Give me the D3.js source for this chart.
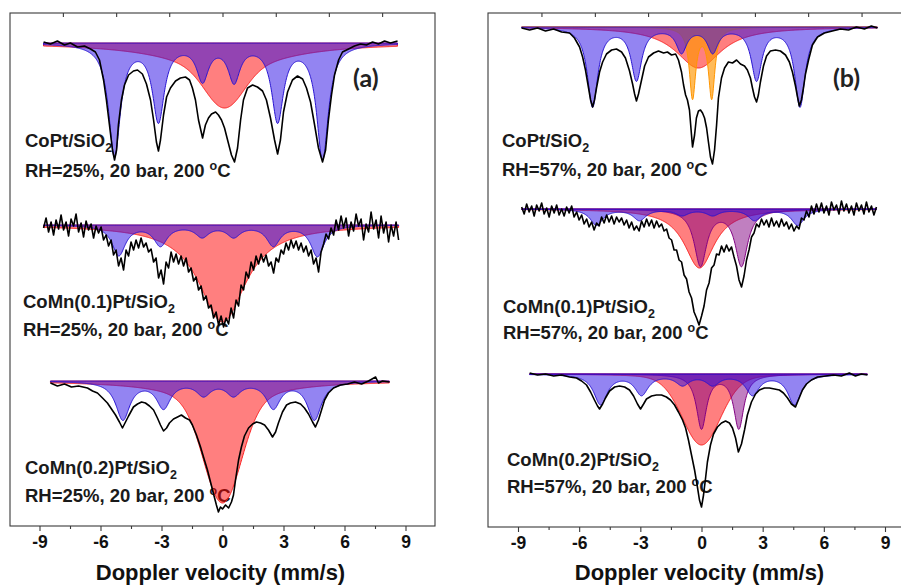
<!DOCTYPE html>
<html><head><meta charset="utf-8">
<script src="https://cdn.jsdelivr.net/npm/d3@7"></script>
<style>body{margin:0;background:#fff}svg{display:block}</style>
</head><body>
<svg id="c" width="901" height="586"></svg>
<script>
// ================= DATA =================
const xTicks = [-9, -6, -3, 0, 3, 6, 9];
const xMinorTicks = [-7.5, -4.5, -1.5, 1.5, 4.5, 7.5];
const topTicks = [-7.85, -5.23, -2.62, 0, 2.62, 5.23, 7.85];
const xLabel = "Doppler velocity (mm/s)";
const samples = ["CoPt", "CoMn(0.1)Pt", "CoMn(0.2)Pt"];
const support = "/SiO";
const humidity = ["25%", "57%"];
const condition = ", 20 bar, 200 ";
const panelTags = ["(a)", "(b)"];

// Fitted lines: [centre velocity (mm/s), depth (%), half width (mm/s), shape L/G]
// ---- (a) RH = 25% ----
const a1Spectrum = [[-8.80,100.1],[-8.46,99.9],[-8.12,100.2],[-7.77,99.8],[-7.48,100.0],[-7.13,99.6],[-6.79,99.7],[-6.49,99.4],[-6.25,99.1],[-6.05,98.3],[-5.85,96.3],[-5.71,94.3],[-5.56,91.8],[-5.41,89.3],[-5.31,88.3],[-5.21,89.3],[-5.12,91.8],[-4.97,94.3],[-4.82,95.8],[-4.62,96.8],[-4.38,97.2],[-4.18,97.3],[-3.94,96.9],[-3.74,95.9],[-3.54,94.3],[-3.39,92.3],[-3.25,90.1],[-3.15,89.2],[-3.05,90.3],[-2.90,92.8],[-2.75,94.6],[-2.56,95.5],[-2.31,96.2],[-2.07,96.5],[-1.82,96.6],[-1.62,96.3],[-1.48,95.5],[-1.33,94.3],[-1.18,92.3],[-0.98,90.5],[-0.84,91.8],[-0.69,92.5],[-0.54,92.9],[-0.34,93.1],[-0.20,92.8],[-0.05,92.3],[0.10,91.5],[0.25,90.3],[0.44,88.8],[0.59,88.1],[0.74,89.5],[0.89,92.3],[1.03,94.3],[1.23,95.5],[1.48,95.8],[1.72,95.6],[1.97,95.2],[2.16,94.3],[2.36,92.5],[2.56,90.3],[2.71,88.9],[2.85,90.3],[3.00,93.1],[3.20,95.1],[3.44,96.3],[3.69,96.7],[3.94,96.4],[4.13,95.5],[4.33,94.1],[4.53,91.8],[4.72,89.5],[4.92,88.1],[5.07,89.3],[5.21,92.3],[5.36,94.8],[5.51,96.8],[5.71,98.3],[5.90,99.1],[6.20,99.4],[6.49,99.7],[6.79,99.9],[7.08,99.8],[7.38,100.1],[7.67,99.9],[7.97,100.2],[8.26,100.0],[8.61,100.2]];
const a1Sextet = [[-5.31,11.2,0.35,"L"],[-3.15,7.6,0.35,"L"],[-0.98,3.5,0.35,"L"],[0.57,3.6,0.35,"L"],[2.71,7.6,0.35,"L"],[4.92,11.5,0.35,"L"]];
const a1Broad = [[0.1,3.5,0.9,"G"],[0.1,3.0,3.0,"L"]];

const a2VelRange = [-8.80, 8.66];
const a2Counts = [99.7,100.7,99.3,100.3,99.0,100.5,99.6,101.0,99.5,100.3,98.9,100.6,99.9,101.1,99.3,100.2,98.8,100.4,99.5,100.1,98.7,99.9,99.2,99.8,98.5,99.0,97.9,98.5,97.0,97.5,95.9,96.7,95.5,97.5,96.9,98.3,97.5,98.5,97.7,98.7,97.8,98.2,97.3,97.6,96.3,96.7,94.7,95.5,94.1,96.3,95.7,97.3,96.3,97.1,96.1,96.9,95.9,96.7,95.3,95.7,94.4,94.8,93.5,93.9,92.5,92.9,91.7,92.0,90.7,91.3,90.0,90.9,89.8,90.7,90.1,91.7,90.7,92.5,91.9,94.0,93.5,95.3,94.7,96.3,95.5,96.9,96.1,97.1,96.3,97.0,95.9,96.3,95.2,96.7,96.3,97.5,97.1,98.2,97.5,98.5,97.7,98.4,97.5,98.2,97.3,97.9,96.9,97.5,96.1,96.7,95.3,97.3,98.1,99.1,98.6,99.7,99.0,100.5,99.5,100.9,99.7,100.7,98.9,100.3,99.4,101.1,99.9,100.6,98.5,100.1,99.3,101.3,99.6,100.5,98.7,100.9,99.2,100.3,98.3,100.0,98.9,100.3,98.5];
const a2Sextet = [[-5.10,3.0,0.4,"L"],[-3.05,2.0,0.4,"L"],[-1.00,1.1,0.4,"L"],[0.55,1.1,0.4,"L"],[2.50,2.0,0.4,"L"],[4.67,3.1,0.4,"L"]];
const a2Broad = [[0.0,9.7,1.4,"L"]];

const a3Spectrum = [[-8.46,99.8],[-8.12,99.5],[-7.77,99.7],[-7.43,99.4],[-7.08,99.5],[-6.64,99.3],[-6.39,99.0],[-6.15,98.8],[-5.90,98.3],[-5.66,97.8],[-5.46,97.2],[-5.26,96.6],[-5.07,95.9],[-4.92,95.3],[-4.77,95.9],[-4.62,96.5],[-4.38,97.4],[-4.18,97.7],[-3.98,97.9],[-3.79,97.8],[-3.59,97.5],[-3.39,97.1],[-3.20,96.3],[-3.05,95.6],[-2.90,95.0],[-2.75,95.3],[-2.61,95.8],[-2.41,96.2],[-2.21,96.4],[-2.02,96.6],[-1.82,96.3],[-1.62,96.1],[-1.48,95.6],[-1.28,94.6],[-1.08,93.4],[-0.89,92.1],[-0.74,91.1],[-0.59,89.9],[-0.44,88.7],[-0.30,87.6],[-0.20,86.9],[-0.10,87.4],[0.00,87.2],[0.15,87.6],[0.30,87.3],[0.44,87.9],[0.54,88.6],[0.64,90.1],[0.79,92.1],[0.93,93.4],[1.08,94.5],[1.28,95.3],[1.48,95.7],[1.67,95.9],[1.87,95.8],[2.07,95.6],[2.26,95.1],[2.46,94.4],[2.61,94.9],[2.75,95.8],[2.95,96.9],[3.15,97.6],[3.34,97.8],[3.59,97.9],[3.84,97.7],[4.03,97.3],[4.23,96.7],[4.43,95.9],[4.57,95.4],[4.72,96.1],[4.87,97.1],[5.02,98.1],[5.21,98.8],[5.46,99.3],[5.80,99.6],[6.15,99.7],[6.49,99.9],[6.84,99.7],[7.18,100.0],[7.53,100.4],[7.67,99.8],[7.87,100.0],[8.21,99.9]];
const a3Sextet = [[-4.90,3.8,0.42,"L"],[-2.90,2.6,0.42,"L"],[-0.93,1.3,0.42,"L"],[0.54,1.3,0.42,"L"],[2.50,2.6,0.42,"L"],[4.52,3.8,0.42,"L"]];
const a3Broad = [[0.0,9.2,0.9,"G"],[0.0,3.0,2.2,"L"]];

// ---- (b) RH = 57% ----
const b1Spectrum = [[-8.82,99.9],[-8.43,99.7],[-8.04,99.9],[-7.65,99.6],[-7.25,99.8],[-6.86,99.5],[-6.47,99.4],[-6.23,98.9],[-5.98,98.0],[-5.83,97.0],[-5.69,95.7],[-5.54,93.9],[-5.44,92.7],[-5.34,92.0],[-5.25,92.7],[-5.15,93.9],[-5.00,95.5],[-4.85,96.5],[-4.66,97.3],[-4.41,97.7],[-4.17,97.8],[-3.92,97.5],[-3.73,96.9],[-3.53,95.6],[-3.38,94.3],[-3.28,93.3],[-3.19,92.6],[-3.09,93.3],[-2.94,94.7],[-2.79,96.1],[-2.60,97.0],[-2.35,97.4],[-2.11,97.6],[-1.86,97.4],[-1.67,97.5],[-1.47,97.2],[-1.27,97.3],[-1.13,96.7],[-0.98,95.5],[-0.88,94.2],[-0.78,93.2],[-0.69,92.7],[-0.59,91.7],[-0.49,89.2],[-0.44,88.0],[-0.34,89.2],[-0.25,90.9],[-0.15,91.6],[-0.05,91.7],[0.05,91.4],[0.15,90.9],[0.25,89.9],[0.34,88.5],[0.44,87.0],[0.54,86.3],[0.64,87.7],[0.74,90.2],[0.83,92.9],[0.98,94.9],[1.13,95.9],[1.32,96.5],[1.52,96.4],[1.72,96.7],[1.91,96.3],[2.11,96.1],[2.25,95.7],[2.40,94.9],[2.50,93.9],[2.60,93.0],[2.70,92.5],[2.79,93.2],[2.89,94.5],[3.04,96.1],[3.19,97.1],[3.38,97.6],[3.63,97.7],[3.87,97.6],[4.12,97.2],[4.31,96.5],[4.46,95.5],[4.61,94.1],[4.71,93.0],[4.80,92.1],[4.90,92.7],[5.00,93.9],[5.10,95.3],[5.25,96.7],[5.44,98.2],[5.69,99.0],[6.03,99.4],[6.42,99.6],[6.81,99.8],[7.21,99.7],[7.60,100.0],[7.99,99.8],[8.33,100.1],[8.63,99.9]];
const b1Sextet = [[-5.34,7.9,0.31,"L"],[-3.19,5.2,0.31,"L"],[-0.98,2.4,0.31,"L"],[0.55,2.4,0.31,"L"],[2.70,5.2,0.31,"L"],[4.83,7.9,0.31,"L"]];
const b1Broad = [[-0.15,4.1,1.35,"L"]];
const b1Doublet = [[-0.44,7.0,0.19,"L"],[0.50,7.0,0.19,"L"]];

const b2VelRange = [-8.82, 8.58];
const b2Counts = [100.2,99.5,100.5,99.7,100.3,99.3,100.4,99.8,100.6,99.5,100.1,99.2,100.3,99.6,100.4,99.4,100.0,99.3,100.2,99.6,100.3,99.2,99.7,98.9,99.4,98.5,99.0,98.2,98.7,97.9,98.6,98.3,99.2,98.6,99.4,98.7,99.3,98.5,99.2,98.7,99.1,98.4,98.9,98.1,98.7,97.9,98.3,97.8,98.8,98.2,99.0,98.3,98.9,98.1,98.8,98.2,98.5,97.8,98.0,97.1,96.9,95.9,95.9,94.9,94.7,93.4,93.0,91.7,91.1,89.7,89.1,88.4,89.3,90.3,91.9,92.6,94.1,94.4,95.5,95.4,96.3,95.7,96.4,95.8,96.2,95.2,94.3,92.9,92.2,93.3,94.9,95.9,97.2,97.6,98.5,98.2,99.0,98.4,98.9,98.2,99.1,98.3,98.8,98.2,99.0,98.3,98.7,98.0,98.5,97.8,98.3,98.0,99.1,98.9,99.8,99.2,100.3,99.5,100.5,99.7,100.6,99.6,100.3,99.4,100.7,99.9,100.4,99.5,100.8,99.8,100.5,99.6,100.3,99.4,100.6,99.8,100.4,99.5,100.7,99.7,100.3,99.4,100.2];
const b2Sextet = [[-5.15,1.6,0.38,"L"],[-3.04,1.1,0.38,"L"],[-0.95,0.6,0.38,"L"],[0.55,0.6,0.38,"L"],[2.60,1.1,0.38,"L"],[4.72,1.6,0.38,"L"]];
const b2Broad = [[-0.10,5.9,0.9,"L"]];
const b2Doublet = [[-0.05,5.6,0.37,"L"],[1.96,5.6,0.37,"L"]];

const b3Spectrum = [[-8.43,100.1],[-8.04,99.9],[-7.65,100.0],[-7.25,99.8],[-6.86,99.9],[-6.47,99.7],[-6.13,99.6],[-5.88,99.3],[-5.64,98.9],[-5.44,98.2],[-5.25,97.4],[-5.10,96.8],[-5.00,96.5],[-4.85,97.0],[-4.71,97.6],[-4.51,98.3],[-4.26,98.7],[-4.02,98.8],[-3.77,98.7],[-3.53,98.4],[-3.33,97.8],[-3.14,97.0],[-2.99,96.5],[-2.84,97.0],[-2.70,97.5],[-2.45,97.8],[-2.21,97.9],[-1.96,97.9],[-1.72,97.7],[-1.52,97.4],[-1.32,96.9],[-1.13,96.2],[-0.93,95.4],[-0.78,94.6],[-0.64,93.4],[-0.49,91.9],[-0.34,90.4],[-0.20,88.7],[-0.10,87.4],[0.00,86.7],[0.10,87.9],[0.20,89.6],[0.29,91.2],[0.44,92.9],[0.59,94.0],[0.78,94.7],[0.98,95.1],[1.18,95.3],[1.37,95.1],[1.52,94.6],[1.67,93.6],[1.81,92.2],[1.96,93.0],[2.11,94.4],[2.25,95.9],[2.45,97.2],[2.65,98.0],[2.84,98.4],[3.09,98.6],[3.33,98.6],[3.58,98.5],[3.82,98.4],[4.02,98.1],[4.22,97.6],[4.41,97.0],[4.61,96.7],[4.75,97.4],[4.95,98.4],[5.15,99.0],[5.39,99.4],[5.69,99.7],[6.08,99.8],[6.47,99.9],[6.86,99.8],[7.25,100.1],[7.55,99.8],[7.84,100.0],[8.14,99.9]];
const b3Sextet = [[-4.95,3.0,0.4,"L"],[-2.94,2.0,0.4,"L"],[-0.93,1.0,0.4,"L"],[0.55,1.0,0.4,"L"],[2.50,2.0,0.4,"L"],[4.56,3.0,0.4,"L"]];
const b3Broad = [[0.0,5.5,0.95,"G"],[0.0,1.6,1.2,"L"]];
const b3Doublet = [[0.0,5.4,0.3,"L"],[1.83,5.4,0.3,"L"]];

// ================= RENDER =================
const FONT = "'Liberation Sans', Arial, sans-serif";
const COLORS = {
  broad:  {fill: "rgba(255,0,0,0.5)",    stroke: "rgb(250,30,30)"},
  orange: {fill: "rgba(255,150,0,0.65)", stroke: "rgb(255,150,0)"},
  purple: {fill: "rgba(130,0,130,0.5)",  stroke: "rgb(130,0,130)"},
  sextet: {fill: "rgba(40,10,230,0.5)",  stroke: "rgb(40,20,210)"}
};

function channels(range, counts) {
  const n = counts.length;
  return counts.map((t, i) => [range[0] + i * (range[1] - range[0]) / (n - 1), t]);
}
function lineDepth(v, l) {
  const u = (v - l[0]) / l[2];
  return l[3] === "G" ? l[1] * Math.exp(-0.5 * u * u) : l[1] / (1 + u * u);
}

const panels = [
  { tag: panelTags[0], tagX: 353, rh: humidity[0],
    frame: [10, 13, 435, 526], x: d3.scaleLinear().domain([-9, 9]).range([39.5, 405.5]),
    spectra: [
      {data: a1Spectrum, comps: [["broad", a1Broad], ["sextet", a1Sextet]], base: 43, label: [25, 147], cond: [25, 177]},
      {data: channels(a2VelRange, a2Counts), comps: [["broad", a2Broad], ["sextet", a2Sextet]], base: 225, label: [23, 308], cond: [23, 336]},
      {data: a3Spectrum, comps: [["broad", a3Broad], ["sextet", a3Sextet]], base: 381, label: [25, 474], cond: [25, 502]}
    ]},
  { tag: panelTags[1], tagX: 833, rh: humidity[1],
    frame: [488, 13, 908, 527], x: d3.scaleLinear().domain([-9, 9]).range([518, 885]),
    spectra: [
      {data: b1Spectrum, comps: [["broad", b1Broad], ["orange", b1Doublet], ["sextet", b1Sextet]], base: 27, label: [502, 147], cond: [502, 176]},
      {data: channels(b2VelRange, b2Counts), comps: [["broad", b2Broad], ["purple", b2Doublet], ["sextet", b2Sextet]], base: 209, label: [503, 313], cond: [503, 339]},
      {data: b3Spectrum, comps: [["broad", b3Broad], ["purple", b3Doublet], ["sextet", b3Sextet]], base: 374, label: [507, 466], cond: [507, 493]}
    ]}
];

const svg = d3.select("#c");
svg.append("rect").attr("width", 901).attr("height", 586).attr("fill", "#fff");

panels.forEach(p => {
  const g = svg.append("g");
  const [fx0, fy0, fx1, fy1] = p.frame;
  g.append("rect").attr("x", fx0).attr("y", fy0).attr("width", fx1 - fx0).attr("height", fy1 - fy0)
    .attr("fill", "none").attr("stroke", "#3a3a3a").attr("stroke-width", 1.1);

  const styleAxis = a => { a.select(".domain").remove(); a.selectAll("line").attr("stroke", "#3a3a3a").attr("stroke-width", 1.1); };
  const ax = g.append("g").attr("transform", `translate(0,${fy1})`)
    .call(d3.axisBottom(p.x).tickValues(xTicks).tickSize(5).tickFormat(d => String(d)));
  styleAxis(ax);
  ax.selectAll("text").attr("font-family", FONT).attr("font-size", 17.5).attr("font-weight", "bold")
    .attr("fill", "#111").attr("dy", null).attr("y", 22);
  const axm = g.append("g").attr("transform", `translate(0,${fy1})`)
    .call(d3.axisBottom(p.x).tickValues(xMinorTicks).tickSize(3).tickFormat(""));
  styleAxis(axm);
  const axt = g.append("g").attr("transform", `translate(0,${fy0})`)
    .call(d3.axisTop(p.x).tickValues(topTicks).tickSize(-4).tickFormat(""));
  styleAxis(axt);

  g.append("text").attr("x", p.x(0) - 2).attr("y", 580).attr("text-anchor", "middle")
    .attr("font-family", FONT).attr("font-size", 22).attr("font-weight", "bold").attr("fill", "#111").text(xLabel);

  g.append("text").attr("x", p.tagX).attr("y", 87).attr("font-family", "Lato, 'Open Sans', sans-serif")
    .attr("font-size", 25).attr("font-weight", "bold").attr("fill", "#222").text(p.tag);

  p.spectra.forEach((s, i) => {
    const t1 = g.append("text").attr("x", s.label[0]).attr("y", s.label[1]).attr("font-family", FONT)
      .attr("font-size", 18.5).attr("font-weight", "bold").attr("fill", "#1a1a1a");
    t1.append("tspan").text(samples[i] + support);
    t1.append("tspan").attr("font-size", 12.5).attr("dy", 5).text("2");
    const t2 = g.append("text").attr("x", s.cond[0]).attr("y", s.cond[1]).attr("font-family", FONT)
      .attr("font-size", 18.5).attr("font-weight", "bold").attr("fill", "#1a1a1a");
    t2.append("tspan").text("RH=" + p.rh + condition);
    t2.append("tspan").attr("font-size", 12.5).attr("dy", -7).text("o");
    t2.append("tspan").attr("dy", 7).text("C");

    const y = d3.scaleLinear().domain([100, 90]).range([s.base, s.base + 100]);
    const vmin = s.data[0][0], vmax = s.data[s.data.length - 1][0];
    const grid = d3.range(vmin, vmax + 1e-9, 0.02);
    const area = d3.area().x(d => p.x(d[0])).y0(y(100)).y1(d => y(d[1]));
    s.comps.forEach(([kind, lines]) => {
      const curve = grid.map(v => [v, 100 - d3.sum(lines, l => lineDepth(v, l))]);
      g.append("path").datum(curve).attr("d", area)
        .attr("fill", COLORS[kind].fill).attr("stroke", COLORS[kind].stroke).attr("stroke-width", 1);
    });
    const line = d3.line().x(d => p.x(d[0])).y(d => y(d[1]));
    g.append("path").datum(s.data).attr("d", line).attr("fill", "none")
      .attr("stroke", "#000").attr("stroke-width", 1.6).attr("stroke-linejoin", "round");
  });
});
</script>
</body></html>
